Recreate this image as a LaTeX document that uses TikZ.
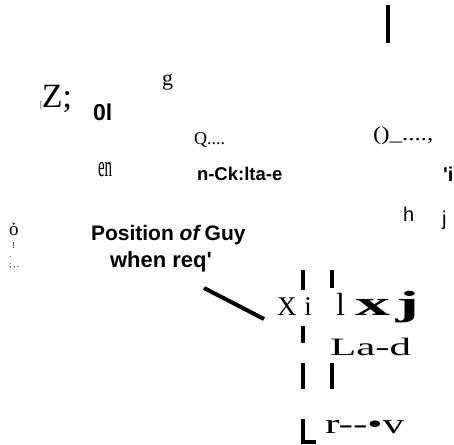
\documentclass[tikz,border=0pt]{standalone}
\usepackage{fontspec}
\setmainfont{Liberation Serif}[Ligatures=TeXOff]
\setsansfont{Liberation Sans}[Ligatures=TeXOff]
\usepackage{graphicx}
\usepackage{tikz}
\usetikzlibrary{positioning}
\tikzset{
  lbl/.style={inner sep=0pt, outer sep=0pt, anchor=base west},
  rmtxt/.style={lbl, font=\rmfamily\fontsize{#1bp}{#1bp}\selectfont},
  rmbold/.style={lbl, font=\rmfamily\bfseries\fontsize{#1bp}{#1bp}\selectfont},
  sftxt/.style={lbl, font=\sffamily\bfseries\fontsize{#1bp}{#1bp}\selectfont},
  sfreg/.style={lbl, font=\sffamily\fontsize{#1bp}{#1bp}\selectfont},
  bar/.style={line width=3.5bp, color=black},
  lead/.style={line width=4bp, color=black}
}

\begin{document}
\begin{tikzpicture}[x=1bp, y=-1bp]
  \useasboundingbox (0,0) rectangle (454,445);

  \node [rmtxt=34] (zed) at (40,108) {{\fontsize{9bp}{9bp}\selectfont|}Z;};
  \node [sftxt=23] (zero) at (93,121) {0l};
  \node [rmtxt=22] (gee) at (162,86) {g};
  \node [rmtxt=18] (cue) at (194,145) {Q....};
  \node [rmtxt=20] (paren) at (373,141) {\scalebox{1.25}[1]{()\_....,}};
  \node [rmtxt=30] (en) at (98,177) {\scalebox{0.5}[1]{en}};
  \node [sftxt=18.5] (neck) at (197,181) {n-Ck:lta-e};
  \node [sftxt=20] (eye) at (443,182) {'i};
  \node [sfreg=20] (aitch) at (403,222) {h};
  \node [sfreg=20] (jay) at (442,226) {j};

  \node [rmtxt=19] (odot) at (9,235) {\.{o}};
  \node [inner sep=0pt, align=left, below right=7bp and 0bp of odot.south west,
         font=\rmfamily\fontsize{9bp}{9.5bp}\selectfont] (dots) {\,\,!\\.\\;\,,\,.};
  \node [sftxt=21] (pos) at (91,240) {Position \textit{of}\,Guy};
  \node [sftxt=22] (when) at (110,267) {when req'};

  \coordinate (leadtop) at (204,288);
  \coordinate (leadend) at (264,319);
  \draw [lead] (leadtop) -- (leadend);

  \node [rmtxt=27] (ex) at (277,315) {X\hspace{8bp}i};
  \node [rmtxt=32] (ell) at (336,315) {l};
  \node [rmbold=35] (exjay) at (355,315) {\scalebox{2}[1]{x\hspace{3bp}j}};
  \node [rmtxt=25] (lad) at (330,355) {\scalebox{1.72}[1]{La-d}};
  \node [rmtxt=28] (arrv) at (325,433) {\scalebox{1.55}[1]{r--•v}};

  \draw [bar] (388,5) -- (388,43);
  \draw [bar] (303,270) -- (303,290);
  \draw [bar] (332,270) -- (332,288);
  \draw [bar] (303,326) -- (303,343);
  \draw [bar] (303,363) -- (303,389);
  \draw [bar] (332,363) -- (332,389);
  \draw [bar] (303,419) -- (303,442) -- (316,442);
\end{tikzpicture}
\end{document}
